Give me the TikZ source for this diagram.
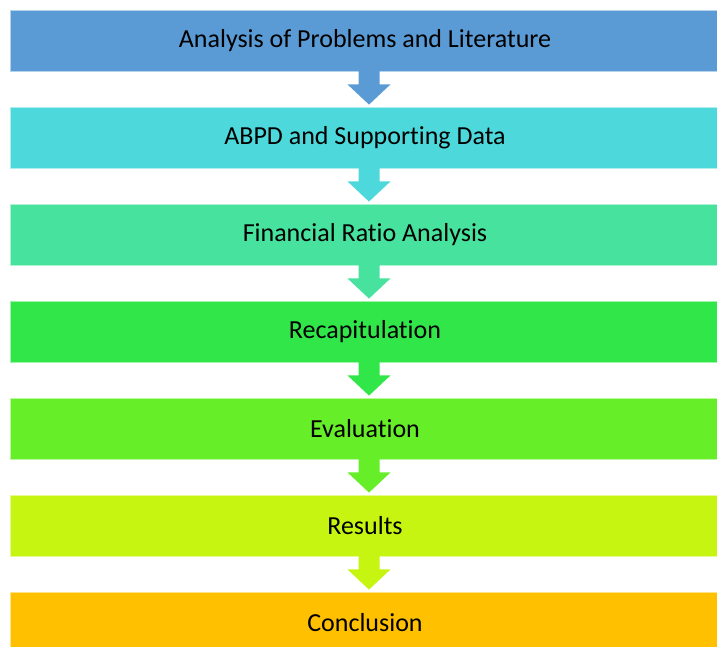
\documentclass[tikz,border=0pt]{standalone}
\usepackage{fontspec}
\setmainfont{Carlito}[RawFeature={-liga;-clig;-calt;-dlig}]
\usetikzlibrary{calc}

\definecolor{stageA}{HTML}{5B9BD5}
\definecolor{stageB}{HTML}{4DD9DC}
\definecolor{stageC}{HTML}{46E29E}
\definecolor{stageD}{HTML}{31E649}
\definecolor{stageE}{HTML}{66EE28}
\definecolor{stageF}{HTML}{C6F512}
\definecolor{stageG}{HTML}{FFC000}

\tikzset{
  stage/.style={rectangle, minimum width=710pt, minimum height=61pt, inner sep=0pt,
    fill=#1, draw=#1!45!white, line width=0.8pt,
    font=\fontsize{26}{31}\selectfont},
}

% block arrow hanging below one stage and pointing at the next
\newcommand{\stagearrow}[3]{%
  \fill[#3] ($(#1.south)+(-6.5,-1)$) -- ++(0,14) -- ++(-11,0)
    -- ($(#2.north)+(4,-2)$) -- ($(#1.south)+(25.5,13)$) -- ++(-11,0)
    -- ++(0,-14) -- cycle;
}

\begin{document}
\begin{tikzpicture}[x=1pt,y=-1pt]
  \useasboundingbox (0,0) rectangle (717,647);

  \foreach \n/\c/\t [count=\i] in {
      probs/stageA/{Analysis of Problems and Literature},
      abpd/stageB/{ABPD and Supporting Data},
      ratio/stageC/{Financial Ratio Analysis},
      recap/stageD/{Recapitulation},
      eval/stageE/{Evaluation},
      results/stageF/{Results},
      concl/stageG/{Conclusion}} {
    \node[stage=\c] (\n) at (365,{40.5+97*(\i-1)}) {\raisebox{-1.5pt}{\t}};
  }

  \stagearrow{probs}{abpd}{stageA}
  \stagearrow{abpd}{ratio}{stageB}
  \stagearrow{ratio}{recap}{stageC}
  \stagearrow{recap}{eval}{stageD}
  \stagearrow{eval}{results}{stageE}
  \stagearrow{results}{concl}{stageF}
\end{tikzpicture}
\end{document}
